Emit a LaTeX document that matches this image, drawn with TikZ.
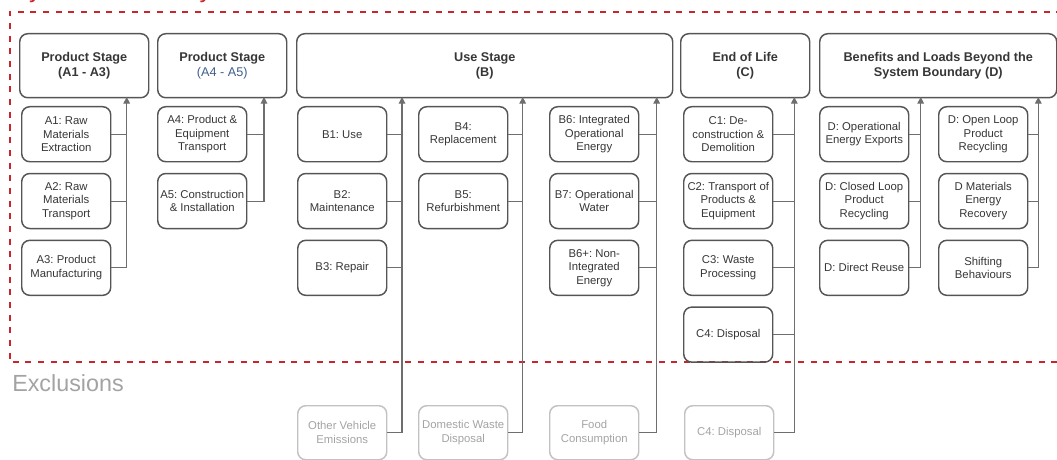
\documentclass[tikz,border=0pt]{standalone}
\usepackage{fontspec}
\setmainfont{Liberation Sans}
\usepackage{xcolor}
\definecolor{edge}{HTML}{555555}
\definecolor{ink}{HTML}{363636}
\definecolor{wire}{HTML}{6E6E6E}
\definecolor{xedge}{HTML}{C2C2C2}
\definecolor{xink}{HTML}{A3A3A3}
\definecolor{bnd}{HTML}{C9252C}
\definecolor{lnk}{HTML}{3E5F8A}
\usepackage{tikz}
\usetikzlibrary{arrows.meta,positioning}
\frenchspacing
\tikzset{
  box/.style={draw=edge,rounded corners=6pt,line width=1.1pt,inner xsep=0.5pt,inner ysep=1pt,
    minimum width=66.75pt,minimum height=41.25pt,align=center,text=ink,
    font=\fontsize{8.5}{10.2}\selectfont,anchor=north west},
  hbox/.style={box,minimum height=48pt,font=\fontsize{9.5}{11.5}\selectfont\bfseries},
  xbox/.style={box,draw=xedge,text=xink,minimum height=40.5pt},
  conn/.style={draw=wire,line width=0.8pt},
  arr/.style={conn,-{Triangle[length=5pt,width=5pt]}},
  bound/.style={draw=bnd,line width=1.5pt,dash pattern=on 4.5pt off 5pt},
}
\begin{document}
\begin{tikzpicture}[x=0.75pt,y=-0.75pt]
\useasboundingbox (0,0) rectangle (1057,460);
\clip (0,0) rectangle (1057,460);
% system boundary
\node[anchor=base west,text=bnd,font=\fontsize{19}{22}\selectfont,inner sep=0pt] (sysb) at (12,-2.5) {System Boundary};
\draw[bound] (1075,12) -- (9.5,12) -- (9.5,362) -- (1075,362);
\node[anchor=base west,text=xink,font=\fontsize{17.5}{20}\selectfont,inner sep=0pt] (excl) at (12,391.5) {Exclusions};

% stage headers
\node[hbox,minimum width=96.75pt] (hA) at (19,33) {Product Stage\\(A1 - A3)};
\node[hbox,minimum width=96.75pt] (hA2) at (157,33) {Product Stage\\{\mdseries\color{lnk}(A4 - A5)}};
\node[hbox,minimum width=282pt] (hB) at (296,33) {Use Stage\\(B)};
\node[hbox,minimum width=96.75pt] (hC) at (680,33) {End of Life\\(C)};
\node[hbox,minimum width=177.75pt] (hD) at (819,33) {Benefits and Loads Beyond the\\System Boundary (D)};

% modules
\node[box] (a1) at (21,106) {A1: Raw\\Materials\\Extraction};
\node[box,below=7.75pt of a1] (a2) {A2: Raw\\Materials\\Transport};
\node[box,below=7.75pt of a2] (a3) {A3: Product\\Manufacturing};
\node[box] (a4) at (157,106) {A4: Product \&\\Equipment\\Transport};
\node[box,below=7.75pt of a4] (a5) {A5: Construction\\\& Installation};
\node[box] (b1) at (297,106) {B1: Use};
\node[box,below=7.75pt of b1] (b2) {B2:\\Maintenance};
\node[box,below=7.75pt of b2] (b3) {B3: Repair};
\node[box] (b4) at (418,106) {B4:\\Replacement};
\node[box,below=7.75pt of b4] (b5) {B5:\\Refurbishment};
\node[box] (b6) at (549,106) {B6: Integrated\\Operational\\Energy};
\node[box,below=7.75pt of b6] (b7) {B7: Operational\\Water};
\node[box,below=7.75pt of b7] (b6p) {B6+: Non-\\Integrated\\Energy};
\node[box] (c1) at (683,106) {C1: De-\\construction \&\\Demolition};
\node[box,below=7.75pt of c1] (c2) {C2: Transport of\\Products \&\\Equipment};
\node[box,below=7.75pt of c2] (c3) {C3: Waste\\Processing};
\node[box,below=7.75pt of c3] (c4) {C4: Disposal};
\node[box] (d1) at (819,106) {D: Operational\\Energy Exports};
\node[box,below=7.75pt of d1] (d2) {D: Closed Loop\\Product\\Recycling};
\node[box,below=7.75pt of d2] (d3) {D: Direct Reuse};
\node[box] (d4) at (938,106) {D: Open Loop\\Product\\Recycling};
\node[box,below=7.75pt of d4] (d5) {D Materials\\Energy\\Recovery};
\node[box,below=7.75pt of d5] (d6) {Shifting\\Behaviours};

% excluded
\node[xbox] (x1) at (297,405) {Other Vehicle\\Emissions};
\node[xbox] (x2) at (418,405) {Domestic Waste\\Disposal};
\node[xbox] (x3) at (549,405) {Food\\Consumption};
\node[xbox] (x4) at (684,405) {C4: Disposal};

% trunks
\coordinate (tA) at (126.7,97); \coordinate (tA2) at (264,97);
\coordinate (tB1) at (402,97); \coordinate (tB2) at (522.7,97); \coordinate (tB3) at (656.7,97);
\coordinate (tC) at (794.3,97); \coordinate (tD1) at (920.7,97); \coordinate (tD2) at (1038.3,97);

\draw[conn] (a1.east) -- (a1.east -| tA); \draw[conn] (a2.east) -- (a2.east -| tA); \draw[arr] (a3.east) -| (tA);
\draw[conn] (a4.east) -- (a4.east -| tA2); \draw[arr] (a5.east) -| (tA2);
\draw[conn] (b1.east) -- (b1.east -| tB1); \draw[conn] (b2.east) -- (b2.east -| tB1); \draw[conn] (b3.east) -- (b3.east -| tB1); \draw[arr] (x1.east) -| (tB1);
\draw[conn] (b4.east) -- (b4.east -| tB2); \draw[conn] (b5.east) -- (b5.east -| tB2); \draw[arr] (x2.east) -| (tB2);
\draw[conn] (b6.east) -- (b6.east -| tB3); \draw[conn] (b7.east) -- (b7.east -| tB3); \draw[conn] (b6p.east) -- (b6p.east -| tB3); \draw[arr] (x3.east) -| (tB3);
\draw[conn] (c1.east) -- (c1.east -| tC); \draw[conn] (c2.east) -- (c2.east -| tC); \draw[conn] (c3.east) -- (c3.east -| tC); \draw[conn] (c4.east) -- (c4.east -| tC); \draw[arr] (x4.east) -| (tC);
\draw[conn] (d1.east) -- (d1.east -| tD1); \draw[conn] (d2.east) -- (d2.east -| tD1); \draw[arr] (d3.east) -| (tD1);
\draw[conn] (d4.east) -- (d4.east -| tD2); \draw[conn] (d5.east) -- (d5.east -| tD2); \draw[arr] (d6.east) -| (tD2);
\end{tikzpicture}
\end{document}
